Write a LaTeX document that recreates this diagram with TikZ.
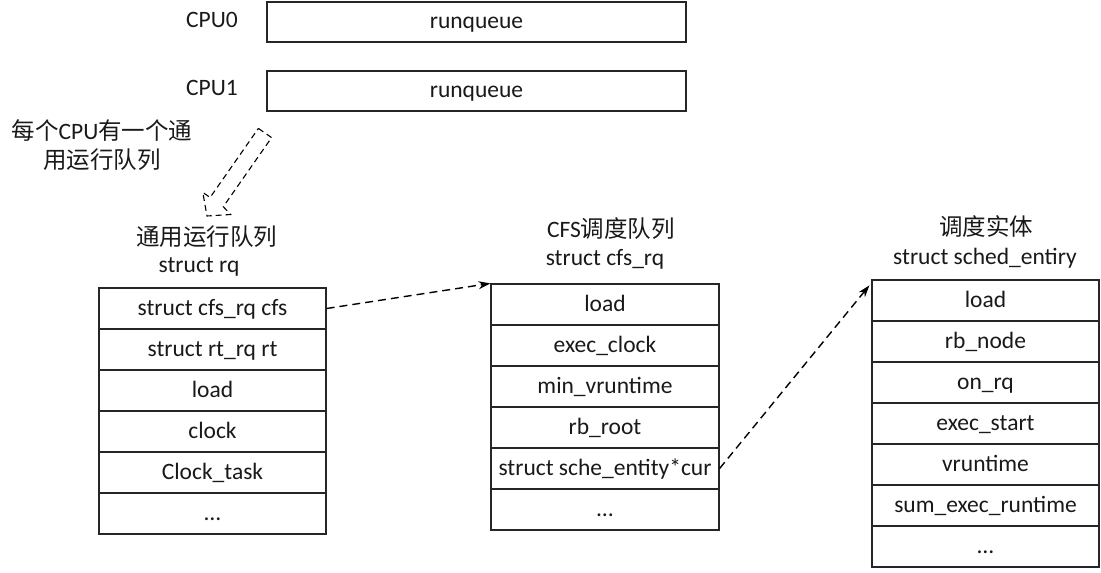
\documentclass[tikz,border=0pt]{standalone}
\usepackage{fontspec}
\setmainfont{Carlito}
\newfontfamily\cjk[Scale=1.0]{Noto Sans CJK SC}
\usetikzlibrary{arrows.meta}
\tikzset{
  txt/.style={font=\fontsize{23.5}{27}\selectfont, inner sep=0pt, text=black!90, text height=17pt, text depth=4pt},
  cell/.style={txt, draw=black!85, line width=1.2pt, minimum width=228pt, minimum height=41pt},
  cpubox/.style={txt, draw=black!85, line width=1.2pt, minimum width=419pt, minimum height=40pt},
  ptr/.style={dashed, dash pattern=on 8pt off 5pt, line width=1.4pt, -{Stealth[length=12pt,width=8pt]}},
  hollow/.style={dash pattern=on 6pt off 4pt, line width=1.1pt}
}
\begin{document}
\begin{tikzpicture}[x=1pt,y=-1pt]
\useasboundingbox (0,0) rectangle (1101,573);
% CPU runqueues
\node[txt] (cpu0) at (212,21) {CPU0};
\node[txt] (cpu1) at (212,89) {CPU1};
\node[cpubox] (rq0) at (476.5,22) {runqueue};
\node[cpubox] (rq1) at (476.5,91) {runqueue};
% note
\node[txt] (note1) at (102,133) {{\cjk 每个}CPU{\cjk 有一个通}};
\node[txt] (note2) at (102,162) {{\cjk 用运行队列}};
% hollow dashed arrow
\draw[hollow] (258.4,128.4) -- (271.6,137.6) -- (223.3,206.7) -- (230.6,214.5)
  -- (207,216) -- (202.8,192.4) -- (210.1,197.5) -- cycle;
% titles
\node[txt] (t1a) at (206.5,239) {{\cjk 通用运行队列}};
\node[txt] (t1b) at (199,266) {struct rq};
\node[txt] (t2a) at (611,231) {CFS{\cjk 调度队列}};
\node[txt] (t2b) at (605,259) {struct cfs\_rq};
\node[txt] (t3a) at (986,229) {{\cjk 调度实体}};
\node[txt] (t3b) at (985,258) {struct sched\_entiry};
% left table
\foreach \t [count=\i] in {struct cfs\_rq cfs, struct rt\_rq rt, load, clock, Clock\_task, \ldots}
  \node[cell, minimum width=227pt] (L\i) at (212.5,267.5+41*\i) {\t};
% middle table
\foreach \t [count=\i] in {load, exec\_clock, min\_vruntime, rb\_root, struct sche\_entity*cur, \ldots}
  \node[cell] (M\i) at (605,263.5+41*\i) {\t};
% right table
\foreach \t [count=\i] in {load, rb\_node, on\_rq, exec\_start, vruntime, sum\_exec\_runtime, \ldots}
  \node[cell, minimum width=227pt] (R\i) at (985.5,259.5+41*\i) {\t};
% pointers
\draw[ptr] (L1.east) -- (M1.north west);
\draw[ptr] (M5.east) -- ([xshift=-2pt,yshift=-6pt]R1.north west);
\end{tikzpicture}
\end{document}
